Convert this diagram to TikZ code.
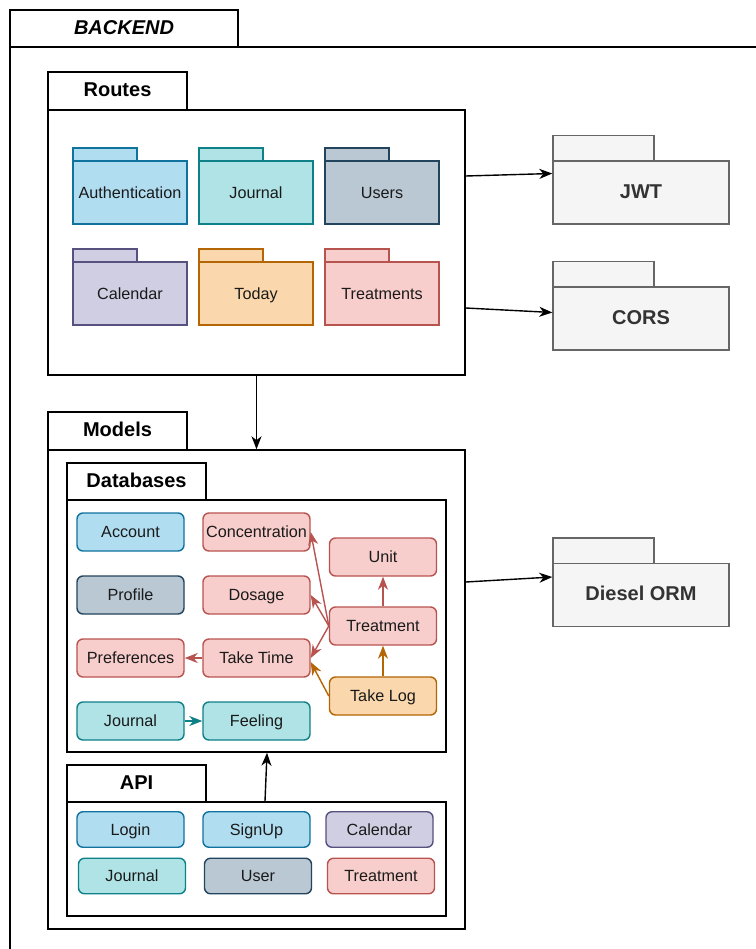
\documentclass[tikz,border=0pt]{standalone}
\usepackage{fontspec}
\setmainfont{Liberation Sans}
\usetikzlibrary{arrows.meta}

% draw.io style palette
\definecolor{blueF}{HTML}{B1DDF0}  \definecolor{blueD}{HTML}{10739E}
\definecolor{tealF}{HTML}{B0E3E6}  \definecolor{tealD}{HTML}{0E8088}
\definecolor{slateF}{HTML}{BAC8D3} \definecolor{slateD}{HTML}{23445D}
\definecolor{purpF}{HTML}{D0CEE2}  \definecolor{purpD}{HTML}{56517E}
\definecolor{orgF}{HTML}{FAD7AC}   \definecolor{orgD}{HTML}{B46504}
\definecolor{redF}{HTML}{F8CECC}   \definecolor{redD}{HTML}{B85450}
\definecolor{greyF}{HTML}{F5F5F5}  \definecolor{greyD}{HTML}{666666}
\definecolor{greyT}{HTML}{333333}
\definecolor{inkT}{HTML}{1A1A1A}

\newcommand\lblfont{\fontsize{16.2}{19}\selectfont}
\newcommand\ttlfont{\fontsize{20}{24}\selectfont\bfseries}

\tikzset{
  frame/.style={rectangle, draw=black, line width=1.5pt, fill=white, inner sep=0pt},
  ttl/.style={frame, font=\ttlfont, text height=14.4pt, text depth=2.5pt},
  fold/.style={rectangle, line width=1.4pt, inner sep=0pt, text=inkT, font=\lblfont,
               text height=11.7pt, text depth=0pt},
  ext/.style={rectangle, line width=1.4pt, inner sep=0pt, fill=greyF, draw=greyD,
              text=greyT, font=\ttlfont, text height=14.4pt, text depth=2.5pt},
  entity/.style={rectangle, rounded corners=6pt, line width=1.4pt, inner sep=0pt,
                 minimum width=107pt, minimum height=38pt, text=inkT, font=\lblfont,
                 text height=11.7pt, text depth=0pt},
  apient/.style={entity, minimum height=35.5pt},
  arr/.style={-{Stealth[length=13pt,width=10pt,inset=4pt]}, line width=1.4pt},
}

% folder-shaped route package: name, left x, tab top y, fill, stroke, label
\newcommand\routepkg[6]{%
  \node[fold, fill=#4, draw=#5, minimum width=64pt, minimum height=13pt]
    (#1-tab) at (#2+32, #3+6.5) {};
  \node[fold, fill=#4, draw=#5, minimum width=114pt, minimum height=63pt]
    (#1) at (#2+57, #3+13+31.5) {#6};
}
% external library package: name, left x, tab top y, label
\newcommand\libpkg[4]{%
  \node[ext, minimum width=101pt, minimum height=25.5pt]
    (#1-tab) at (#2+50.5, #3+12.75) {};
  \node[ext, minimum width=176pt, minimum height=63pt]
    (#1) at (#2+88, #3+25.5+31.5) {#4};
}

\begin{document}
\begin{tikzpicture}[x=1pt, y=-1pt]
\useasboundingbox (0,0) rectangle (755,949);

% BACKEND container (runs past the page edges)
\draw[line width=1.5pt] (10,47) -- (760,47);
\draw[line width=1.5pt] (10,47) -- (10,955);
\node[ttl, font=\ttlfont\itshape, minimum width=228pt, minimum height=37pt]
  (backend) at (124,28.5) {BACKEND};

% Routes package
\node[ttl, minimum width=139pt, minimum height=38pt] (routes-tab) at (117.5,91) {Routes};
\node[frame, minimum width=417pt, minimum height=265pt] (routes) at (256.5,242.5) {};

\routepkg{auth}{73}{148}{blueF}{blueD}{Authentication}
\routepkg{journalr}{199}{148}{tealF}{tealD}{Journal}
\routepkg{users}{325}{148}{slateF}{slateD}{Users}
\routepkg{calendarr}{73}{249}{purpF}{purpD}{Calendar}
\routepkg{today}{199}{249}{orgF}{orgD}{Today}
\routepkg{treatments}{325}{249}{redF}{redD}{Treatments}

% Models package
\node[ttl, minimum width=139pt, minimum height=38pt] (models-tab) at (117.5,431) {Models};
\node[frame, minimum width=417pt, minimum height=479pt] (models) at (256.5,689.5) {};

% Databases
\node[ttl, minimum width=139pt, minimum height=37pt] (db-tab) at (136.5,481.5) {Databases};
\node[frame, minimum width=379pt, minimum height=252pt] (databases) at (256.5,626) {};

\node[entity, fill=blueF, draw=blueD]   (account)       at (130.5,532) {Account};
\node[entity, fill=redF, draw=redD]     (concentration) at (256.5,532) {Concentration};
\node[entity, fill=redF, draw=redD]     (unit)          at (383,557)   {Unit};
\node[entity, fill=slateF, draw=slateD] (profile)       at (130.5,595) {Profile};
\node[entity, fill=redF, draw=redD]     (dosage)        at (256.5,595) {Dosage};
\node[entity, fill=redF, draw=redD]     (treatment)     at (383,626)   {Treatment};
\node[entity, fill=redF, draw=redD]     (preferences)   at (130.5,658) {Preferences};
\node[entity, fill=redF, draw=redD]     (taketime)      at (256.5,658) {Take Time};
\node[entity, fill=orgF, draw=orgD]     (takelog)       at (383,696)   {Take Log};
\node[entity, fill=tealF, draw=tealD]   (journaldb)     at (130.5,721) {Journal};
\node[entity, fill=tealF, draw=tealD]   (feeling)       at (256.5,721) {Feeling};

% API
\node[ttl, minimum width=139pt, minimum height=37pt] (api-tab) at (136.5,783.5) {API};
\node[frame, minimum width=379pt, minimum height=114pt] (api) at (256.5,859) {};

\node[apient, fill=blueF, draw=blueD]   (login)     at (130.5,829.5) {Login};
\node[apient, fill=blueF, draw=blueD]   (signup)    at (256.5,829.5) {SignUp};
\node[apient, fill=purpF, draw=purpD]   (calendara) at (379.5,829.5) {Calendar};
\node[apient, fill=tealF, draw=tealD]   (journala)  at (132,876)     {Journal};
\node[apient, fill=slateF, draw=slateD] (usera)     at (258,876)     {User};
\node[apient, fill=redF, draw=redD]     (treatmenta) at (381,876)    {Treatment};

% External libraries
\libpkg{jwt}{553}{135.5}{JWT}
\libpkg{cors}{553}{261.5}{CORS}
\libpkg{diesel}{553}{538}{Diesel ORM}

% Dependencies between packages
\draw[arr] (routes.south) -- (models.north);
\draw[arr] ([yshift=66.5pt]routes.east) -- ([yshift=19pt]jwt.west);
\draw[arr] ([yshift=-65.5pt]routes.east) -- ([yshift=6pt]cors.west);
\draw[arr] ([yshift=107.5pt]models.east) -- ([yshift=18pt]diesel.west);
\draw[arr] ([xshift=8.5pt]api.north) -- ([xshift=10.5pt]databases.south);

% Relations between tables
\draw[arr, redD] (treatment.west) -- (concentration.east);
\draw[arr, redD] (treatment.west) -- (dosage.east);
\draw[arr, redD] (treatment.west) -- (taketime.east);
\draw[arr, redD] (treatment.north) -- (unit.south);
\draw[arr, orgD] (takelog.north) -- (treatment.south);
\draw[arr, orgD] (takelog.west) -- ([yshift=-4pt]taketime.east);
\draw[arr, redD] (taketime.west) -- (preferences.east);
\draw[arr, tealD] (journaldb.east) -- (feeling.west);
\end{tikzpicture}
\end{document}
